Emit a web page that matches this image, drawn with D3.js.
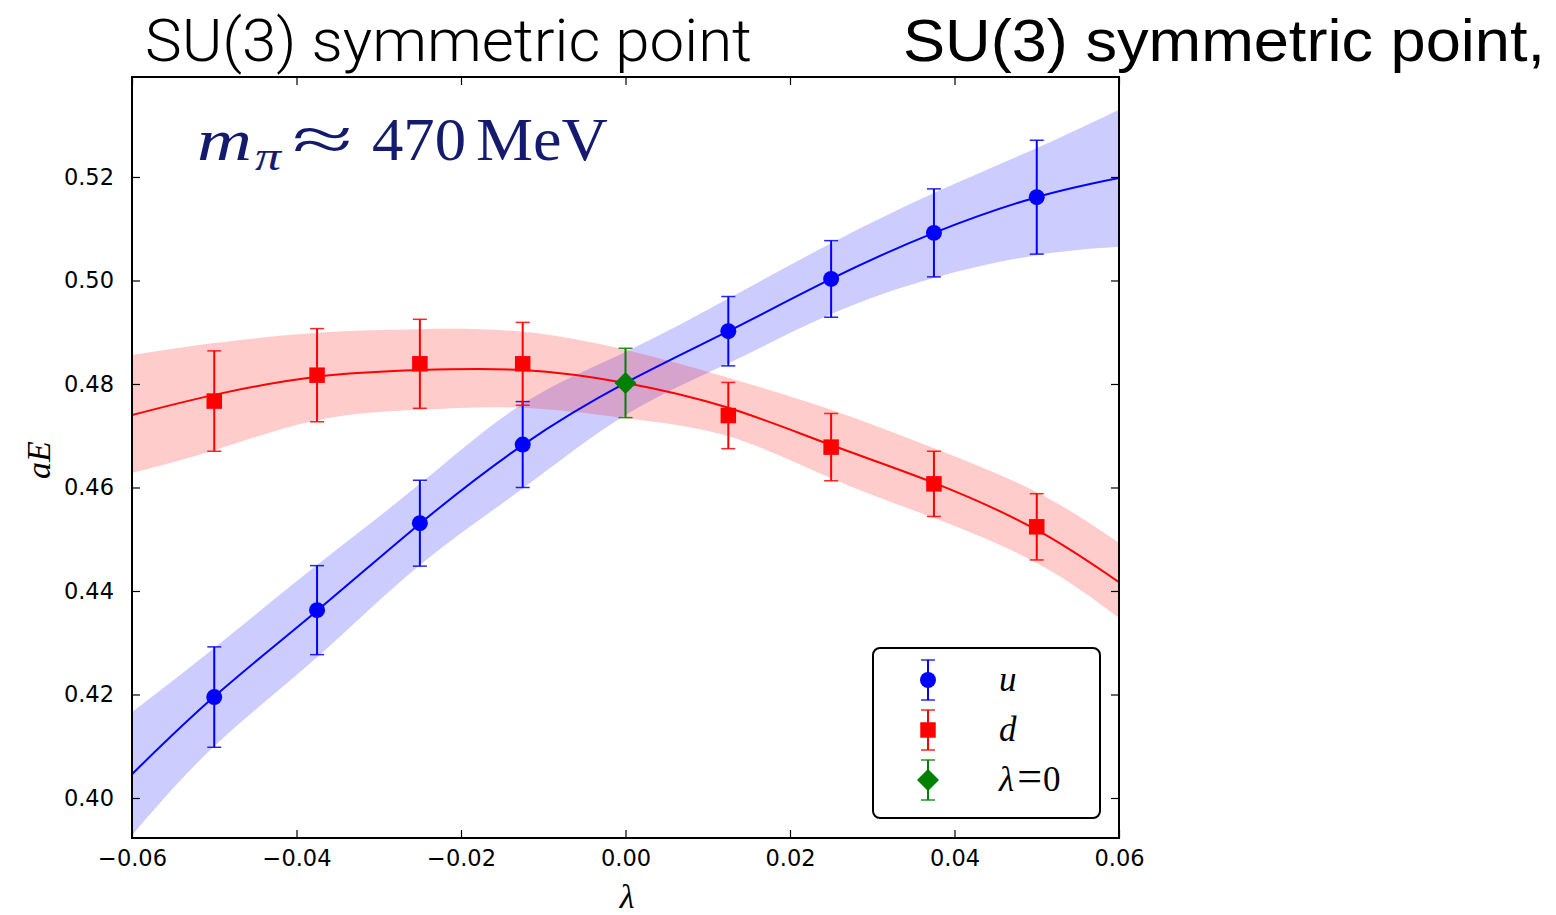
<!DOCTYPE html>
<html>
<head>
<meta charset="utf-8">
<script src="https://cdn.jsdelivr.net/npm/d3@7.9.0/dist/d3.min.js"></script>
<style>
  html, body { margin: 0; padding: 0; background: #fff; }
  svg { display: block; }
  .tick text { font-family: "DejaVu Sans", sans-serif; font-size: 22.5px; fill: #000; }
</style>
</head>
<body>
<svg id="chart" width="1556" height="915"></svg>
<script>
// lattice points
const lambdas = [-0.05, -0.0375, -0.025, -0.0125, 0.0125, 0.025, 0.0375, 0.05];
const uVals = [0.4195, 0.4363, 0.4531, 0.4683, 0.4902, 0.5003, 0.5092, 0.5161];
const uErr  = [0.0097, 0.0086, 0.0083, 0.0083, 0.0067, 0.0074, 0.0085, 0.0110];
const dVals = [0.4767, 0.4817, 0.4839, 0.4839, 0.4739, 0.4678, 0.4607, 0.4524];
const dErr  = [0.0097, 0.0090, 0.0086, 0.0080, 0.0064, 0.0065, 0.0063, 0.0064];
const symX = [0.0], symVal = [0.4802], symErr = [0.0067];

// fit curves
const fitX     = [-0.06, -0.05, -0.0375, -0.025, -0.0125, 0, 0.0125, 0.025, 0.0375, 0.05, 0.06];
const uFit     = [0.4046, 0.4196, 0.4362, 0.4530, 0.4682, 0.4802, 0.4902, 0.5003, 0.5092, 0.5161, 0.5198];
const uFitLo   = [0.3928, 0.4100, 0.4272, 0.4450, 0.4598, 0.4740, 0.4840, 0.4935, 0.5005, 0.5049, 0.5065];
const uFitHi   = [0.4166, 0.4290, 0.4450, 0.4607, 0.4762, 0.4862, 0.4965, 0.5072, 0.5169, 0.5256, 0.5330];
const dFit     = [0.4740, 0.4779, 0.4814, 0.4827, 0.4827, 0.4802, 0.4754, 0.4682, 0.4609, 0.4518, 0.4417];
const dFitLo   = [0.4628, 0.4672, 0.4730, 0.4750, 0.4754, 0.4734, 0.4699, 0.4618, 0.4541, 0.4454, 0.4348];
const dFitHi   = [0.4856, 0.4879, 0.4899, 0.4906, 0.4901, 0.4866, 0.4812, 0.4750, 0.4676, 0.4591, 0.4493];

const xTicks = [-0.06, -0.04, -0.02, 0.0, 0.02, 0.04, 0.06];
const yTicks = [0.40, 0.42, 0.44, 0.46, 0.48, 0.50, 0.52];

const svg = d3.select('#chart');
const L = 132, R = 1119, T = 77, B = 838;

const x = d3.scaleLinear().domain([-0.06, 0.06]).range([L, R]);
const y = d3.scaleLinear().domain([0.39227, 0.53932]).range([B, T]);

svg.append('defs').append('clipPath').attr('id', 'plot')
  .append('rect').attr('x', L).attr('y', T).attr('width', R - L).attr('height', B - T);

const plot = svg.append('g').attr('clip-path', 'url(#plot)');

function band(lo, hi, color) {
  const rows = fitX.map((v, i) => ({ x: v, lo: lo[i], hi: hi[i] }));
  plot.append('path').datum(rows)
    .attr('d', d3.area().curve(d3.curveNatural).x(d => x(d.x)).y0(d => y(d.lo)).y1(d => y(d.hi)))
    .attr('fill', color).attr('fill-opacity', 0.2).attr('stroke', 'none');
}
function fitLine(vals, color) {
  plot.append('path').datum(fitX.map((v, i) => [v, vals[i]]))
    .attr('d', d3.line().curve(d3.curveNatural).x(d => x(d[0])).y(d => y(d[1])))
    .attr('fill', 'none').attr('stroke', color).attr('stroke-width', 2);
}
band(uFitLo, uFitHi, '#0000ff');
band(dFitLo, dFitHi, '#ff0000');
fitLine(uFit, '#0000ff');
fitLine(dFit, '#ff0000');

// error bars + markers
function errorbars(g, xs, vals, errs, color) {
  const rows = xs.map((v, i) => ({ x: v, y: vals[i], e: errs[i] }));
  const eb = g.append('g');
  eb.selectAll('line.v').data(rows).join('line')
    .attr('x1', d => x(d.x)).attr('x2', d => x(d.x))
    .attr('y1', d => y(d.y - d.e)).attr('y2', d => y(d.y + d.e))
    .attr('stroke', color).attr('stroke-width', 2);
  ['lo', 'hi'].forEach(k => {
    eb.selectAll('line.' + k).data(rows).join('line')
      .attr('x1', d => x(d.x) - 7).attr('x2', d => x(d.x) + 7)
      .attr('y1', d => y(k === 'lo' ? d.y - d.e : d.y + d.e))
      .attr('y2', d => y(k === 'lo' ? d.y - d.e : d.y + d.e))
      .attr('stroke', color).attr('stroke-width', 1.5).attr('stroke-opacity', 0.85);
  });
  return rows;
}
const marks = svg.append('g');
const uRows = errorbars(marks, lambdas, uVals, uErr, '#0000ff');
const dRows = errorbars(marks, lambdas, dVals, dErr, '#ff0000');
const sRows = errorbars(marks, symX, symVal, symErr, '#008000');

const circ = d3.symbol().type(d3.symbolCircle).size(200);
const sq = d3.symbol().type(d3.symbolSquare).size(240);
const diamond = 'M0,-11L11,0L0,11L-11,0Z';

marks.selectAll('path.u').data(uRows).join('path')
  .attr('transform', d => `translate(${x(d.x)},${y(d.y)})`).attr('d', circ).attr('fill', '#0000ff');
marks.selectAll('path.d').data(dRows).join('path')
  .attr('transform', d => `translate(${x(d.x)},${y(d.y)})`).attr('d', sq).attr('fill', '#ff0000');
marks.selectAll('path.s').data(sRows).join('path')
  .attr('transform', d => `translate(${x(d.x)},${y(d.y)})`).attr('d', diamond).attr('fill', '#008000');

// axes with inward ticks on all sides
function styleAxis(g) {
  g.select('.domain').remove();
  g.selectAll('.tick line').attr('stroke', '#000').attr('stroke-width', 1.2);
}
svg.append('g').attr('transform', `translate(0,${B})`)
  .call(d3.axisBottom(x).tickValues(xTicks).tickSizeInner(-8).tickSizeOuter(0).tickPadding(12)
    .tickFormat(d => d3.format('.2f')(d).replace('-', '\u2212')))
  .call(styleAxis);
svg.append('g').attr('transform', `translate(0,${T})`)
  .call(d3.axisTop(x).tickValues(xTicks).tickSizeInner(-8).tickSizeOuter(0).tickFormat(''))
  .call(styleAxis);
svg.append('g').attr('transform', `translate(${L},0)`)
  .call(d3.axisLeft(y).tickValues(yTicks).tickSizeInner(-8).tickSizeOuter(0).tickPadding(18)
    .tickFormat(d3.format('.2f')))
  .call(styleAxis);
svg.append('g').attr('transform', `translate(${R},0)`)
  .call(d3.axisRight(y).tickValues(yTicks).tickSizeInner(-8).tickSizeOuter(0).tickFormat(''))
  .call(styleAxis);

svg.append('rect').attr('x', L).attr('y', T).attr('width', R - L).attr('height', B - T)
  .attr('fill', 'none').attr('stroke', '#000').attr('stroke-width', 2);

// axis labels
svg.append('text').attr('x', 627).attr('y', 908).attr('text-anchor', 'middle')
  .attr('font-family', 'Liberation Serif, serif').attr('font-style', 'italic').attr('font-size', 34)
  .text('λ');
svg.append('text').attr('transform', 'translate(50,460) rotate(-90)').attr('text-anchor', 'middle')
  .attr('font-family', 'Liberation Serif, serif').attr('font-style', 'italic').attr('font-size', 34)
  .text('aE');

// titles
svg.append('text').attr('x', 145).attr('y', 61)
  .attr('font-family', 'Roboto, sans-serif').attr('font-weight', 300).attr('font-size', 60)
  .attr('textLength', 607).attr('lengthAdjust', 'spacingAndGlyphs')
  .text('SU(3) symmetric point');
svg.append('text').attr('x', 903).attr('y', 61)
  .attr('font-family', 'Liberation Sans, sans-serif').attr('font-size', 60)
  .attr('textLength', 642).attr('lengthAdjust', 'spacingAndGlyphs')
  .text('SU(3) symmetric point,');

// annotation
const ann = svg.append('g').attr('fill', '#141a6e').attr('font-family', 'Liberation Serif, serif');
ann.append('text').attr('x', 197).attr('y', 160).attr('font-size', 60).attr('font-style', 'italic')
  .attr('textLength', 55).attr('lengthAdjust', 'spacingAndGlyphs').text('m');
ann.append('text').attr('x', 255).attr('y', 170).attr('font-size', 42).attr('font-style', 'italic')
  .attr('textLength', 26).attr('lengthAdjust', 'spacingAndGlyphs').text('π');
ann.append('text').attr('x', 292).attr('y', 160).attr('font-size', 62)
  .attr('textLength', 61).attr('lengthAdjust', 'spacingAndGlyphs').text('≈');
ann.append('text').attr('x', 372).attr('y', 160).attr('font-size', 62)
  .attr('textLength', 94).attr('lengthAdjust', 'spacingAndGlyphs').text('470');
ann.append('text').attr('x', 476).attr('y', 160).attr('font-size', 62)
  .attr('textLength', 132).attr('lengthAdjust', 'spacingAndGlyphs').text('MeV');

// legend
const lg = svg.append('g');
lg.append('rect').attr('x', 873).attr('y', 648).attr('width', 227).attr('height', 170)
  .attr('rx', 7).attr('fill', '#fff').attr('stroke', '#000').attr('stroke-width', 2);
const legendItems = [
  { label: 'u', color: '#0000ff', shape: circ, cy: 680 },
  { label: 'd', color: '#ff0000', shape: sq, cy: 730 },
  { label: 'λ=0', color: '#008000', shape: diamond, cy: 780 }
];
legendItems.forEach(it => {
  const gx = 928;
  lg.append('line').attr('x1', gx).attr('x2', gx).attr('y1', it.cy - 20).attr('y2', it.cy + 20)
    .attr('stroke', it.color).attr('stroke-width', 2);
  [it.cy - 20, it.cy + 20].forEach(yy => lg.append('line')
    .attr('x1', gx - 7).attr('x2', gx + 7).attr('y1', yy).attr('y2', yy)
    .attr('stroke', it.color).attr('stroke-width', 1.5).attr('stroke-opacity', 0.85));
  lg.append('path').attr('transform', `translate(${gx},${it.cy})`).attr('d', it.shape).attr('fill', it.color);
  const t = lg.append('text').attr('x', 999).attr('y', it.cy + 11)
    .attr('font-family', 'Liberation Serif, serif').attr('font-size', 35);
  if (it.label === 'λ=0') {
    t.append('tspan').attr('font-style', 'italic').text('λ');
    t.append('tspan').attr('dx', 3).attr('font-size', 44).text('=');
    t.append('tspan').attr('dx', 1).text('0');
  } else {
    t.attr('font-style', 'italic').text(it.label);
  }
});
</script>
</body>
</html>
